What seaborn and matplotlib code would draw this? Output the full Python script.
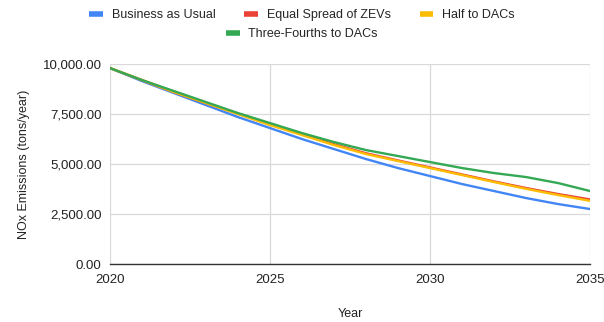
import matplotlib
matplotlib.use("Agg")
import matplotlib.pyplot as plt
from matplotlib.ticker import FuncFormatter, MultipleLocator
from matplotlib.lines import Line2D
import seaborn as sns
import pandas as pd

years = list(range(2020, 2036))
business_as_usual = [9800, 9150, 8550, 7950, 7350, 6800, 6250, 5750, 5250, 4800, 4400, 4000, 3650, 3300, 3000, 2750]
equal_spread = [9800, 9200, 8600, 8050, 7520, 6980, 6480, 5990, 5540, 5180, 4830, 4480, 4130, 3800, 3500, 3230]
half_to_dacs = [9800, 9200, 8600, 8050, 7500, 6950, 6450, 5950, 5500, 5150, 4800, 4450, 4100, 3760, 3450, 3160]
three_fourths = [9800, 9200, 8650, 8100, 7550, 7050, 6550, 6100, 5700, 5400, 5100, 4800, 4550, 4350, 4050, 3650]

series_names = ["Business as Usual", "Equal Spread of ZEVs", "Half to DACs", "Three-Fourths to DACs"]
colors = ["#4285F4", "#EA4335", "#FBBC04", "#34A853"]

df = pd.concat([
    pd.DataFrame({"Year": years, "NOx": vals, "Scenario": name})
    for name, vals in zip(series_names, [business_as_usual, equal_spread, half_to_dacs, three_fourths])
])

sns.set_style("white")
plt.rcParams['font.family'] = ['Liberation Sans', 'DejaVu Sans']

fig = plt.figure(figsize=(6.04, 3.22), dpi=100)
ax = fig.add_axes([0.182, 0.180, 0.795, 0.621])

sns.lineplot(data=df, x="Year", y="NOx", hue="Scenario", palette=dict(zip(series_names, colors)),
             linewidth=1.7, ax=ax, legend=False)

ax.set_xlim(2020, 2035)
ax.set_ylim(0, 10000)
ax.xaxis.set_major_locator(MultipleLocator(5))
ax.yaxis.set_major_locator(MultipleLocator(2500))
ax.yaxis.set_major_formatter(FuncFormatter(lambda v, p: f"{v:,.2f}"))
ax.grid(True, color="#d9d9d9", linewidth=0.9)
ax.set_axisbelow(True)
for s in ["top", "right", "left"]:
    ax.spines[s].set_visible(False)
ax.spines["bottom"].set_color("#333333")
ax.spines["bottom"].set_linewidth(1.0)
ax.tick_params(axis="both", length=0, labelsize=9.5, colors="#222222")
ax.tick_params(axis="x", pad=7)
ax.tick_params(axis="y", pad=6)
ax.set_xlabel("Year", fontsize=9, color="#222222", labelpad=16)
ax.set_ylabel("NOx Emissions (tons/year)", fontsize=9, color="#222222", labelpad=9)

handles = [Line2D([0], [0], color=c, linewidth=4, solid_capstyle="butt") for c in colors]
fig.legend(handles[:3], series_names[:3], loc="center", bbox_to_anchor=(0.5, 0.953), ncol=3,
           frameon=False, fontsize=9, handlelength=1.1, columnspacing=2.3, handletextpad=0.7)
fig.legend(handles[3:], series_names[3:], loc="center", bbox_to_anchor=(0.5, 0.893), ncol=1,
           frameon=False, fontsize=9, handlelength=1.1, handletextpad=0.7)

fig.savefig("out.png", dpi=100)
